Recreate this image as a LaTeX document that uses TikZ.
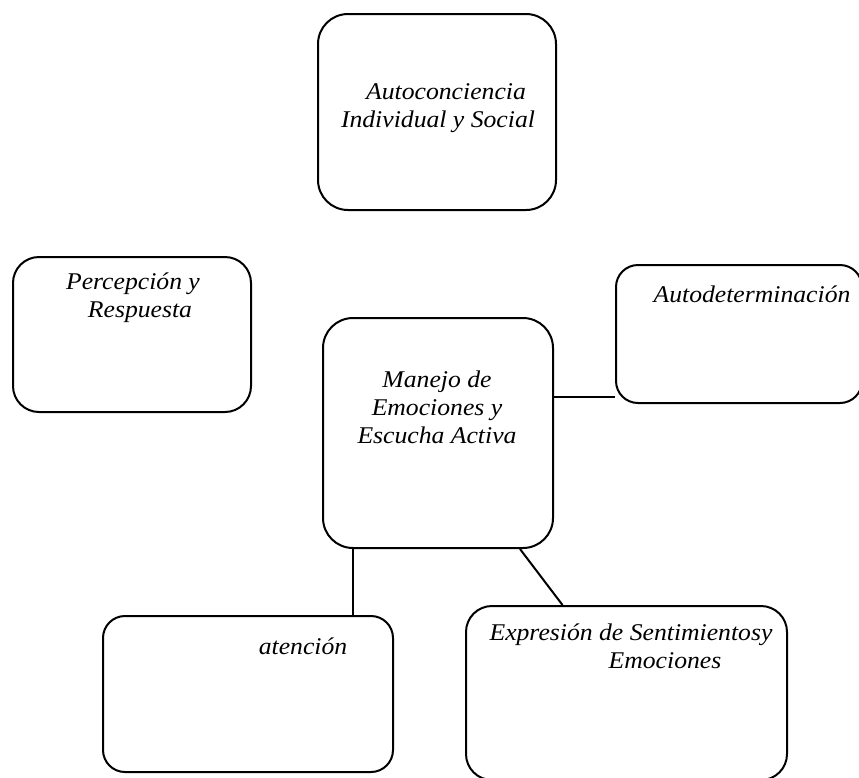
\documentclass[tikz,border=0pt]{standalone}
\usepackage{fontspec}
\setmainfont{Liberation Serif}[FakeStretch=1.07]
\usepackage{tikz}
\usetikzlibrary{positioning, calc}
\tikzset{
    mapbox/.style={draw=black, line width=2pt, rounded corners=26pt, inner sep=0pt},
    maptext/.style={font=\fontsize{24}{28}\selectfont\itshape, align=center, anchor=base, inner sep=0pt},
    mapline/.style={draw=black, line width=2pt}
}
\begin{document}
\begin{tikzpicture}[x=1pt, y=-1pt]
    \useasboundingbox (0,0) rectangle (859,777);
    % boxes
    \node[mapbox, minimum width=238pt, minimum height=196pt, rounded corners=30pt] (conciencia) at (437,112) {};
    \node[mapbox, minimum width=238pt, minimum height=155pt] (percepcion) at (132,334.5) {};
    \node[mapbox, minimum width=246pt, minimum height=138pt, rounded corners=22pt] (autodet) at (739,334) {};
    \node[mapbox, minimum width=230pt, minimum height=230pt, rounded corners=30pt] (manejo) at (438,433) {};
    \node[mapbox, minimum width=290pt, minimum height=156pt, rounded corners=22pt] (atencion) at (248,694) {};
    \node[mapbox, minimum width=321pt, minimum height=174pt] (expresion) at (626.5,693) {};
    % texts (base = last line)
    \node[maptext] (concienciatxt) at (438,127) {\hspace*{16pt}Autoconciencia\\Individual y Social};
    \node[maptext] (percepciontxt) at (133,317) {Percepción y\\\hspace*{14pt}Respuesta};
    \node[maptext] (autodettxt) at (752,302) {Autodeterminación};
    \node[maptext] (manejotxt) at (437,443) {Manejo de\\Emociones y\\Escucha Activa};
    \node[maptext] (atenciontxt) at (303,654) {atención};
    \node[maptext] (expresiontxt) at (631,668) {Expresión de Sentimientosy\\\hspace*{68pt}Emociones};
    % connectors
    \draw[mapline] ([yshift=36pt]manejo.east) -- ([yshift=36pt]manejo.east -| autodet.west);
    \draw[mapline] ([xshift=-85pt]manejo.south) -- ([xshift=-85pt]manejo.south |- atencion.north);
    \draw[mapline] ([xshift=82pt]manejo.south) -- ([xshift=-64pt]expresion.north);
\end{tikzpicture}
\end{document}
